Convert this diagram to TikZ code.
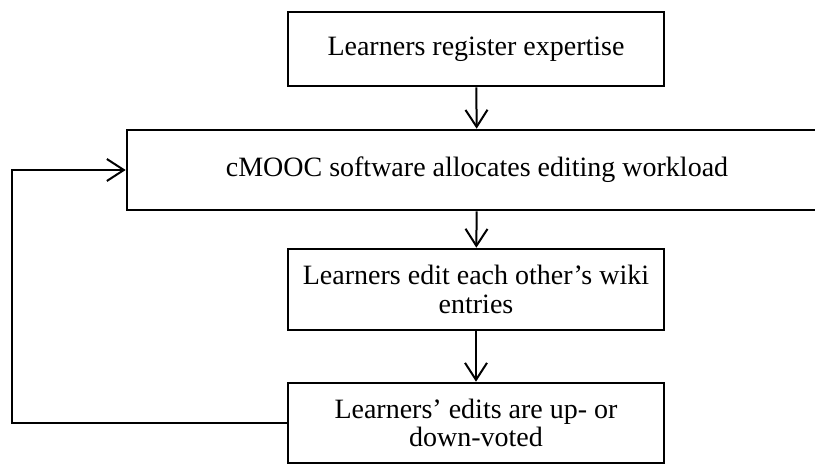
\documentclass[tikz,border=0pt]{standalone}
\usepackage{fontspec}
\setmainfont{Liberation Serif}
\usepackage{tikz}
\usetikzlibrary{arrows.meta,positioning}
\tikzset{
  every node/.style={
    font=\fontsize{28}{28.5}\selectfont
  },
  stepbox/.style={
    shape=rectangle,
    draw=black,
    line width=2.6pt,
    minimum width=376pt,
    minimum height=78pt,
    align=center,
    inner sep=0pt
  },
  flowarrow/.style={
    line width=2pt,
    -{Straight Barb[length=17pt,width=22pt,line width=2pt]}
  }
}

\begin{document}
\begin{tikzpicture}[x=1pt,y=-1pt]
    \useasboundingbox (0,0) rectangle (815,466);
    % boxes
    \node[stepbox,minimum height=74pt] (register) at (476,49) {Learners register expertise};
    \node[stepbox,minimum width=700pt,minimum height=80pt] (allocate) at (477,170) {cMOOC software allocates editing workload};
    \node[stepbox,minimum height=81pt] (edit) at (476,289.5) {Learners edit each other’s wiki\\entries};
    \node[stepbox,minimum height=80pt] (vote) at (476,423) {Learners’ edits are up- or\\down-voted};
    \coordinate (loop) at (12,0);
    % connectors
    \draw[flowarrow] (register) -- (allocate);
    \draw[flowarrow] (allocate) -- (edit);
    \draw[flowarrow] (edit) -- (vote);
    \draw[flowarrow,line width=2.6pt] (vote.west) -- (vote.west -| loop) |- (allocate.west);
\end{tikzpicture}
\end{document}
